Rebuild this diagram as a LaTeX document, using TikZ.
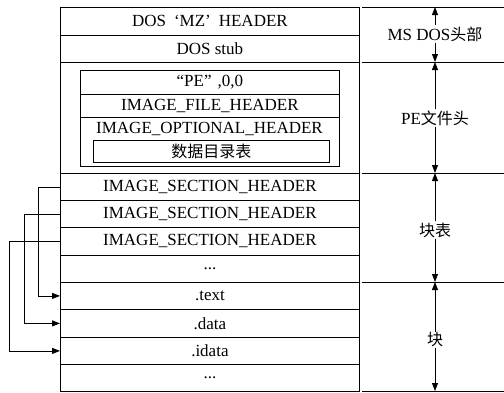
\documentclass[tikz,border=0pt]{standalone}
\usepackage{fontspec}
\setmainfont{Liberation Serif}
\newfontfamily\cjk{Noto Sans CJK SC}
\usetikzlibrary{arrows.meta}
\begin{document}
\begin{tikzpicture}[x=1pt,y=-1pt,
  box/.style={draw,line width=0.8pt,inner sep=0pt,minimum width=299pt,anchor=north west,font=\fontsize{17}{19}\selectfont},
  ibox/.style={draw,line width=0.8pt,inner sep=0pt,minimum width=259pt,anchor=north west,font=\fontsize{17}{19}\selectfont},
  lab/.style={inner sep=1pt,font=\fontsize{17}{19}\selectfont},
  cjklab/.style={inner sep=1pt,font=\cjk\fontsize{16}{18}\selectfont},
  sep/.style={line width=0.8pt},
  dim/.style={line width=0.8pt,-{Triangle[length=8pt,width=6pt]}},
  conn/.style={line width=0.8pt,-{Triangle[length=8pt,width=6pt]}}]
\useasboundingbox (0,0) rectangle (504,392);
% main column
\node[box,minimum height=28pt] (mz) at (60,7) {DOS\hspace{8pt}‘MZ’\hspace{8pt}HEADER};
\node[box,minimum height=27pt] (stub) at (60,35) {DOS stub};
\node[box,minimum height=111pt] (pe) at (60,62) {};
\node[box,minimum height=27pt] (ish1) at (60,173) {IMAGE\_SECTION\_HEADER};
\node[box,minimum height=27pt] (ish2) at (60,200) {IMAGE\_SECTION\_HEADER};
\node[box,minimum height=28pt] (ish3) at (60,227) {IMAGE\_SECTION\_HEADER};
\node[box,minimum height=27pt] (dots1) at (60,255) {...};
\node[box,minimum height=27pt] (text) at (60,282) {.text};
\node[box,minimum height=28pt] (data) at (60,309) {.data};
\node[box,minimum height=27pt] (idata) at (60,337) {.idata};
\node[box,minimum height=27pt] (dots2) at (60,364) {...};
% inner PE header
\node[ibox,minimum height=24pt] (sig) at (80,70) {“PE”\hspace{6pt},0,0};
\node[ibox,minimum height=23pt] (ifh) at (80,94) {IMAGE\_FILE\_HEADER};
\node[ibox,minimum height=49pt] (ioh) at (80,117) {};
\node[font=\fontsize{17}{19}\selectfont,inner sep=0pt] (iohl) at (209.5,128.5) {IMAGE\_OPTIONAL\_HEADER};
\node[draw,line width=0.8pt,inner sep=0pt,minimum width=236pt,minimum height=22pt,anchor=north west,font=\cjk\fontsize{16}{18}\selectfont] (dir) at (93,140) {数据目录表};
% right side separators
\coordinate (r0a) at (362,7);   \coordinate (r0b) at (504,7);
\coordinate (r1a) at (362,62);  \coordinate (r1b) at (504,62);
\coordinate (r2a) at (362,173); \coordinate (r2b) at (504,173);
\coordinate (r3a) at (362,282); \coordinate (r3b) at (504,282);
\coordinate (r4a) at (362,391); \coordinate (r4b) at (504,391);
\draw[sep] (r0a) -- (r0b);
\draw[sep] (r1a) -- (r1b);
\draw[sep] (r2a) -- (r2b);
\draw[sep] (r3a) -- (r3b);
\draw[sep] (r4a) -- (r4b);
% labels and dimension arrows
\node[lab] (l1) at (435,34) {MS DOS{\cjk\fontsize{16}{18}\selectfont 头部}};
\node[lab] (l2) at (435,118) {PE{\cjk\fontsize{16}{18}\selectfont 文件头}};
\node[cjklab] (l3) at (435,230) {块表};
\node[cjklab] (l4) at (435,340) {块};
\coordinate (a0) at (435,7);
\coordinate (a1) at (435,62);
\coordinate (a2) at (435,173);
\coordinate (a3) at (435,282);
\coordinate (a4) at (435,391);
\draw[dim] (l1.north) -- (a0);
\draw[dim] (l1.south) -- (a1);
\draw[dim] (l2.north) -- (a1);
\draw[dim] (l2.south) -- (a2);
\draw[dim] (l3.north) -- (a2);
\draw[dim] (l3.south) -- (a3);
\draw[dim] (l4.north) -- (a3);
\draw[dim] (l4.south) -- (a4);
% section header pointers
\draw[conn] (ish1.west) -- ++(-22,0) |- (text.west);
\draw[conn] (ish2.west) -- ++(-36,0) |- (data.west);
\draw[conn] (ish3.west) -- ++(-51,0) |- (idata.west);
\end{tikzpicture}
\end{document}
